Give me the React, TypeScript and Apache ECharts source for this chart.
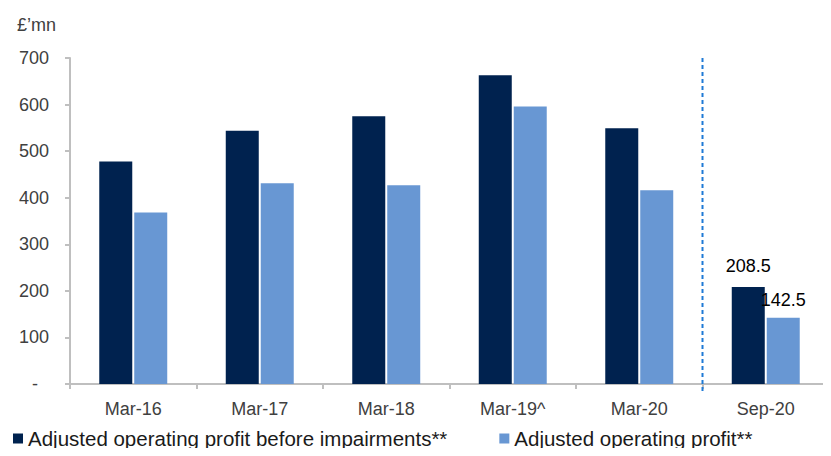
import React, { useEffect, useRef } from "react";
import * as echarts from "echarts";

const categories = ["Mar-16", "Mar-17", "Mar-18", "Mar-19^", "Mar-20", "Sep-20"];
const beforeImpairments = [478, 544, 575, 663, 549, 208.5];
const adjustedProfit = [368, 431, 427, 596, 416, 142.5];
const labelledCategory = "Sep-20";
const seriesNames = [
  "Adjusted operating profit before impairments**",
  "Adjusted operating profit**",
];

const FONT = "'Liberation Sans', Arial, sans-serif";

export default function App() {
  const ref = useRef<HTMLDivElement>(null);
  useEffect(() => {
    if (!ref.current) return;
    const chart = echarts.init(ref.current, undefined, { renderer: "svg" });
    const lastIdx = categories.indexOf(labelledCategory);
    const mkData = (arr: number[], dist: number) =>
      arr.map((v, i) =>
        i === lastIdx
          ? {
              value: v,
              label: {
                show: true,
                position: "top",
                distance: dist,
                color: "#000",
                fontSize: 18,
                fontFamily: FONT,
              },
            }
          : v
      );
    chart.setOption({
      animation: false,
      textStyle: { fontFamily: FONT },
      title: {
        text: "£’mn",
        left: 12,
        top: 11,
        textStyle: { fontSize: 18, fontWeight: "normal", color: "#404040", fontFamily: FONT },
      },
      grid: { left: 70, right: 2, top: 58, bottom: 72, containLabel: false },
      legend: {
        top: 425,
        left: 8,
        padding: [3, 5],
        icon: "rect",
        itemWidth: 10,
        itemHeight: 10,
        itemGap: 52,
        textStyle: { fontSize: 20.5, color: "#1a1a1a", fontFamily: FONT },
        data: seriesNames,
      },
      xAxis: {
        type: "category",
        data: categories,
        axisLine: { lineStyle: { color: "#bfbfbf", width: 2 } },
        axisTick: { show: true, length: 5, lineStyle: { color: "#bfbfbf", width: 2 } },
        axisLabel: { color: "#404040", fontSize: 18, margin: 16, fontFamily: FONT },
      },
      yAxis: {
        type: "value",
        min: 0,
        max: 700,
        interval: 100,
        splitLine: { show: false },
        axisLine: { show: true, lineStyle: { color: "#bfbfbf", width: 2 } },
        axisTick: { show: true, length: 5, lineStyle: { color: "#bfbfbf", width: 2 } },
        axisLabel: {
          color: "#404040",
          fontSize: 18,
          margin: 21,
          fontFamily: FONT,
          formatter: (v: number) => (v === 0 ? "{d|-}" : String(v)),
          rich: { d: { padding: [0, 11, 0, 0], fontSize: 18, color: "#404040" } },
        },
      },
      series: [
        {
          name: seriesNames[0],
          type: "bar",
          barWidth: 33,
          barGap: "6%",
          itemStyle: { color: "#00224f" },
          data: mkData(beforeImpairments, 12),
        },
        {
          name: seriesNames[1],
          type: "bar",
          barWidth: 33,
          itemStyle: { color: "#6897d3" },
          data: mkData(adjustedProfit, 9),
        },
      ],
    });
    const c1 = chart.convertToPixel({ xAxisIndex: 0 }, categories[lastIdx]) as number;
    const c0 = chart.convertToPixel({ xAxisIndex: 0 }, categories[lastIdx - 1]) as number;
    const xb = (c0 + c1) / 2;
    const yTop = chart.convertToPixel({ yAxisIndex: 0 }, 700) as number;
    const yBot = chart.convertToPixel({ yAxisIndex: 0 }, 0) as number;
    chart.setOption({
      graphic: [
        {
          type: "line",
          shape: { x1: xb, y1: yTop, x2: xb, y2: yBot + 8 },
          style: { stroke: "#1f7ad6", lineWidth: 2, lineDash: [4, 3] },
          z: 10,
        },
      ],
    });
    return () => chart.dispose();
  }, []);
  return <div ref={ref} style={{ width: 831, height: 456, margin: -8 }} />;
}
